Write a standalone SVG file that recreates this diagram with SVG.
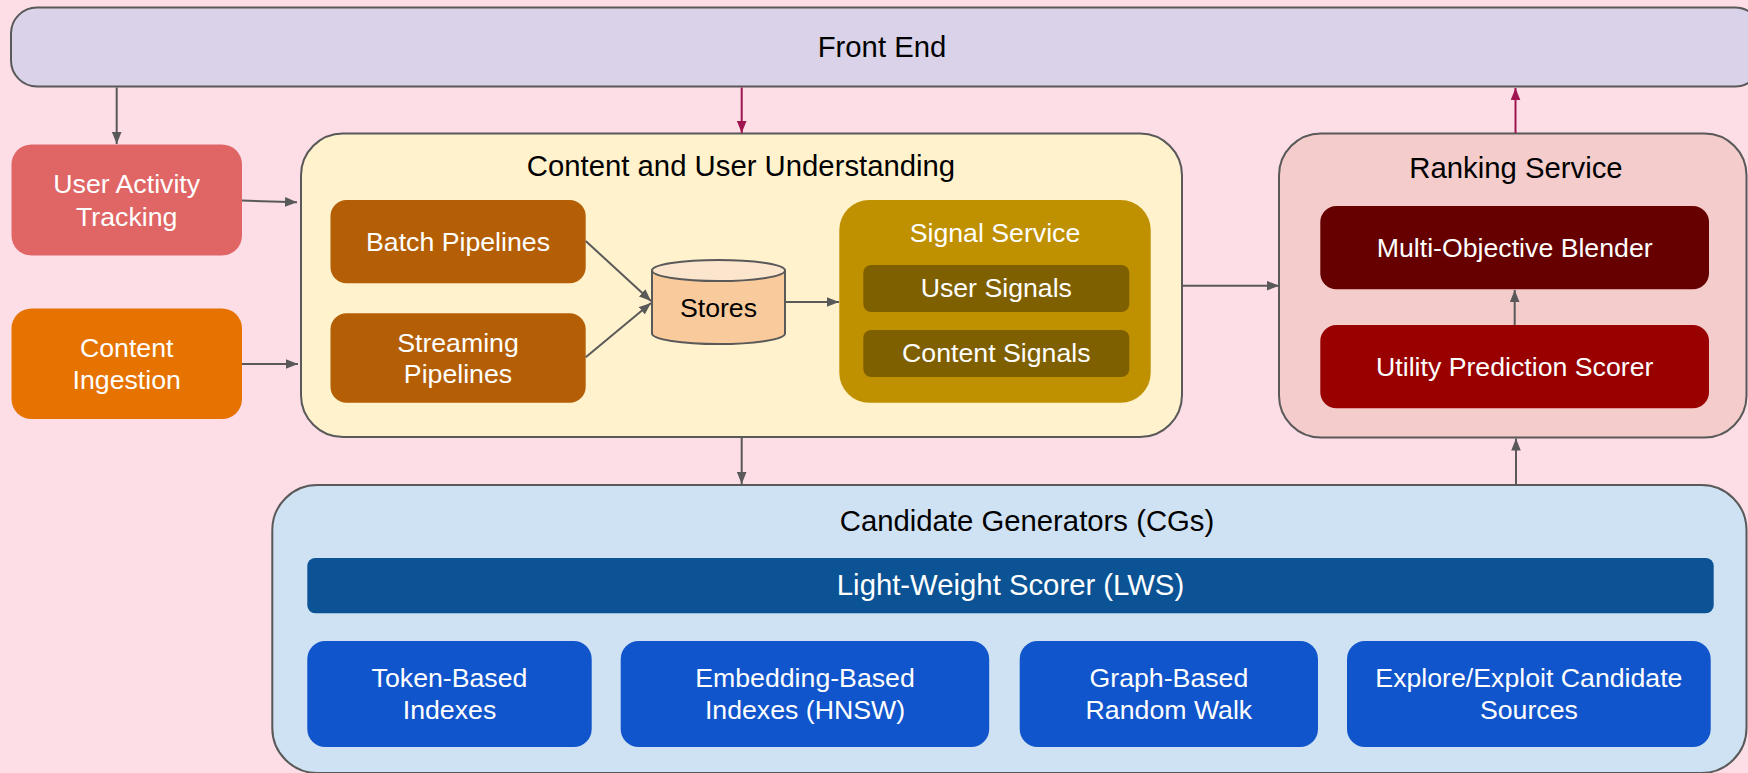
<svg xmlns="http://www.w3.org/2000/svg" width="1748" height="773" viewBox="0 0 1748 773">
  <defs>
    <marker id="arrow-gray" markerUnits="userSpaceOnUse" markerWidth="12" markerHeight="10" refX="12" refY="5" orient="auto">
      <path d="M0,0.2 L12,5 L0,9.8 Z" fill="#595959"/>
    </marker>
    <marker id="arrow-berry" markerUnits="userSpaceOnUse" markerWidth="12" markerHeight="10" refX="12" refY="5" orient="auto">
      <path d="M0,0.2 L12,5 L0,9.8 Z" fill="#a0144f"/>
    </marker>
    <style>
      text { font-family: "Liberation Sans", Arial, sans-serif; text-anchor: middle; }
      .title { font-size: 29.3px; fill: #000000; }
      .label { font-size: 26.7px; fill: #ffffff; }
      .dark { font-size: 26.7px; fill: #000000; }
      .outer { stroke: #595959; stroke-width: 2; }
      .conn { fill: none; stroke: #595959; stroke-width: 2; marker-end: url(#arrow-gray); }
      .conn-berry { fill: none; stroke: #a0144f; stroke-width: 2; marker-end: url(#arrow-berry); }
    </style>
  </defs>

  <!-- page background -->
  <rect x="0" y="0" width="1748" height="773" fill="#fddde6"/>

  <g id="front-end">
    <rect class="outer" x="11" y="7.5" width="1750" height="79" rx="26" fill="#d9d2e9"/>
    <text class="title" x="882" y="57.3">Front End</text>
  </g>

  <g id="user-activity-tracking">
    <rect x="11.5" y="144.5" width="230.5" height="111" rx="20" fill="#e06666"/>
    <text class="label" x="126.7" y="193">User Activity</text>
    <text class="label" x="126.7" y="225.5">Tracking</text>
  </g>

  <g id="content-ingestion">
    <rect x="11.5" y="308.5" width="230.5" height="110.5" rx="20" fill="#e67300"/>
    <text class="label" x="126.7" y="357.3">Content</text>
    <text class="label" x="126.7" y="389.3">Ingestion</text>
  </g>

  <g id="content-user-understanding">
    <rect class="outer" x="301" y="133.5" width="881" height="303.5" rx="42" fill="#fff2cc"/>
    <text class="title" x="741" y="175.5">Content and User Understanding</text>
  </g>

  <g id="batch-pipelines">
    <rect x="330.5" y="200" width="255.2" height="83.3" rx="16" fill="#b45f06"/>
    <text class="label" x="458" y="250.7">Batch Pipelines</text>
  </g>

  <g id="streaming-pipelines">
    <rect x="330.5" y="313.3" width="255.2" height="89.4" rx="16" fill="#b45f06"/>
    <text class="label" x="458" y="351.7">Streaming</text>
    <text class="label" x="458" y="383.3">Pipelines</text>
  </g>

  <g id="stores">
    <path d="M652,270.5 L652,333.5 A66.5,10.5 0 0 0 785,333.5 L785,270.5 Z" fill="#f9cb9c" stroke="#595959" stroke-width="2"/>
    <ellipse cx="718.5" cy="270.5" rx="66.5" ry="10.5" fill="#fce5cd" stroke="#595959" stroke-width="2"/>
    <text class="dark" x="718.5" y="316.7">Stores</text>
  </g>

  <g id="signal-service">
    <rect x="839.3" y="200" width="311.4" height="202.7" rx="30" fill="#bf9000"/>
    <text class="label" x="995" y="241.7">Signal Service</text>
  </g>

  <g id="user-signals">
    <rect x="863.3" y="265" width="266" height="47" rx="8" fill="#7f6000"/>
    <text class="label" x="996.3" y="297.3">User Signals</text>
  </g>

  <g id="content-signals">
    <rect x="863.3" y="330" width="266" height="47" rx="8" fill="#7f6000"/>
    <text class="label" x="996.3" y="362.3">Content Signals</text>
  </g>

  <g id="ranking-service">
    <rect class="outer" x="1279" y="133.5" width="467.5" height="304" rx="42" fill="#f4cccc"/>
    <text class="title" x="1516" y="178.3">Ranking Service</text>
  </g>

  <g id="multi-objective-blender">
    <rect x="1320.3" y="206" width="388.7" height="83.3" rx="16" fill="#660000"/>
    <text class="label" x="1514.7" y="256.7">Multi-Objective Blender</text>
  </g>

  <g id="utility-prediction-scorer">
    <rect x="1320.3" y="325" width="388.7" height="83.3" rx="16" fill="#990000"/>
    <text class="label" x="1514.7" y="376">Utility Prediction Scorer</text>
  </g>

  <g id="candidate-generators">
    <rect class="outer" x="272.3" y="485" width="1474.2" height="288" rx="45" fill="#cfe2f3"/>
    <text class="title" x="1027" y="530.7">Candidate Generators (CGs)</text>
  </g>

  <g id="light-weight-scorer">
    <rect x="307.3" y="558" width="1406.4" height="55.3" rx="8" fill="#0b5394"/>
    <text class="title" x="1010.5" y="595" fill="#ffffff" style="fill:#ffffff">Light-Weight Scorer (LWS)</text>
  </g>

  <g id="token-based-indexes">
    <rect x="307.3" y="641" width="284.4" height="106" rx="18" fill="#1155cc"/>
    <text class="label" x="449.5" y="687.3">Token-Based</text>
    <text class="label" x="449.5" y="719.3">Indexes</text>
  </g>

  <g id="embedding-based-indexes">
    <rect x="620.7" y="641" width="368.5" height="106" rx="18" fill="#1155cc"/>
    <text class="label" x="805" y="687.3">Embedding-Based</text>
    <text class="label" x="805" y="719.3">Indexes (HNSW)</text>
  </g>

  <g id="graph-based-random-walk">
    <rect x="1019.7" y="641" width="298.3" height="106" rx="18" fill="#1155cc"/>
    <text class="label" x="1168.9" y="687.3">Graph-Based</text>
    <text class="label" x="1168.9" y="719.3">Random Walk</text>
  </g>

  <g id="explore-exploit-sources">
    <rect x="1347" y="641" width="363.7" height="106" rx="18" fill="#1155cc"/>
    <text class="label" x="1528.9" y="687.3">Explore/Exploit Candidate</text>
    <text class="label" x="1528.9" y="719.3">Sources</text>
  </g>

  <!-- connectors -->
  <g id="connectors">
    <path class="conn" d="M116.7,87.5 L116.7,144"/>
    <path class="conn-berry" d="M741.7,87.5 L741.7,133"/>
    <path class="conn" d="M242,200.5 L297,202.3"/>
    <path class="conn" d="M242,364 L298,364"/>
    <path class="conn" d="M585.7,241 L651,301"/>
    <path class="conn" d="M585.7,357.3 L651,303"/>
    <path class="conn" d="M785,302 L839,302"/>
    <path class="conn" d="M1182,285.7 L1279,285.7"/>
    <path class="conn" d="M1514.7,325 L1514.7,290"/>
    <path class="conn-berry" d="M1515.5,133 L1515.5,88"/>
    <path class="conn" d="M741.7,438 L741.7,484"/>
    <path class="conn" d="M1516,485 L1516,438.5"/>
  </g>
</svg>
